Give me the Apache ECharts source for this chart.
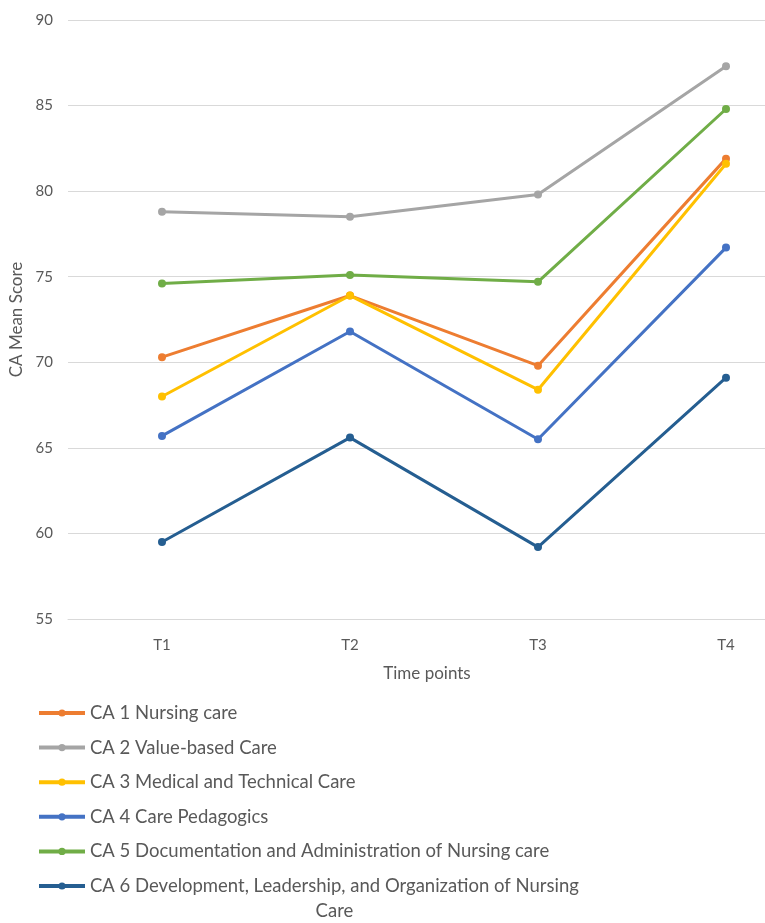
<!DOCTYPE html>
<html>
<head>
<meta charset="utf-8">
<script src="https://cdn.jsdelivr.net/npm/echarts@6/dist/echarts.min.js"></script>
<style>
  html, body { margin: 0; padding: 0; background: #fff; }
  #chart { width: 765px; height: 923px; }
</style>
</head>
<body>
<div id="chart"></div>
<script>
// Time points on the horizontal axis
const timePoints = ['T1', 'T2', 'T3', 'T4'];

// Mean scores per competence area at each time point
const ca1Nursing = [70.3, 73.9, 69.8, 81.9];
const ca2ValueBased = [78.8, 78.5, 79.8, 87.3];
const ca3MedicalTechnical = [68.0, 73.9, 68.4, 81.6];
const ca4Pedagogics = [65.7, 71.8, 65.5, 76.7];
const ca5Documentation = [74.6, 75.1, 74.7, 84.8];
const ca6Leadership = [59.5, 65.6, 59.2, 69.1];

const seriesNames = [
  'CA 1 Nursing care',
  'CA 2 Value-based Care',
  'CA 3 Medical and Technical Care',
  'CA 4 Care Pedagogics',
  'CA 5 Documentation and Administration of Nursing care',
  'CA 6 Development, Leadership, and Organization of Nursing Care'
];
const seriesValues = [ca1Nursing, ca2ValueBased, ca3MedicalTechnical, ca4Pedagogics, ca5Documentation, ca6Leadership];
const seriesColors = ['#ED7D31', '#A5A5A5', '#FFC000', '#4472C4', '#70AD47', '#255E91'];

const FONT = 'Lato, "Liberation Sans", sans-serif';
const TEXT_COLOR = '#595959';
const LEGEND_FONT_SIZE = 18.5;

const chart = echarts.init(document.getElementById('chart'), null, { renderer: 'canvas' });

const legendText = {
  color: TEXT_COLOR,
  fontFamily: FONT,
  fontSize: LEGEND_FONT_SIZE,
  lineHeight: 23
};
const legendCommon = {
  orient: 'vertical',
  left: 37,
  padding: 0,
  itemWidth: 46,
  itemHeight: 9,
  itemGap: 11.6,
  lineStyle: { width: 4 }
};

chart.setOption({
  animation: false,
  backgroundColor: '#ffffff',
  color: seriesColors,
  grid: {
    left: 68,
    right: -55,
    top: 20,
    bottom: 304,
    containLabel: false,
    outerBoundsMode: 'none'
  },
  xAxis: {
    type: 'category',
    data: timePoints,
    boundaryGap: true,
    axisLine: { show: true, lineStyle: { color: '#D9D9D9', width: 1 } },
    axisTick: { show: false },
    axisLabel: { color: TEXT_COLOR, fontFamily: FONT, fontSize: 15, margin: 19 },
    name: 'Time points',
    nameLocation: 'middle',
    nameGap: 46,
    nameTextStyle: { color: TEXT_COLOR, fontFamily: FONT, fontSize: 17, padding: [0, 34, 0, 0] }
  },
  yAxis: {
    type: 'value',
    min: 55,
    max: 90,
    interval: 5,
    axisLine: { show: false },
    axisTick: { show: false },
    splitLine: { show: true, lineStyle: { color: '#D9D9D9', width: 1 } },
    axisLabel: { color: TEXT_COLOR, fontFamily: FONT, fontSize: 15, margin: 15 },
    name: 'CA Mean Score',
    nameLocation: 'middle',
    nameGap: 41,
    nameTextStyle: { color: TEXT_COLOR, fontFamily: FONT, fontSize: 17 }
  },
  legend: [
    Object.assign({}, legendCommon, {
      top: 701.5,
      textStyle: legendText,
      data: seriesNames.slice(0, 5)
    }),
    Object.assign({}, legendCommon, {
      top: 848.5,
      textStyle: Object.assign({}, legendText, {
        lineHeight: 25,
        padding: [25, 0, 0, 0],
        rich: {
          a: { color: TEXT_COLOR, fontFamily: FONT, fontSize: LEGEND_FONT_SIZE, lineHeight: 25 },
          c: { color: TEXT_COLOR, fontFamily: FONT, fontSize: LEGEND_FONT_SIZE, lineHeight: 25, align: 'center' }
        }
      }),
      formatter: function () {
        return '{a|CA 6 Development, Leadership, and Organization of Nursing}\n{c|Care}';
      },
      data: [seriesNames[5]]
    })
  ],
  series: seriesNames.map(function (name, i) {
    return {
      name: name,
      type: 'line',
      data: seriesValues[i],
      symbol: 'circle',
      symbolSize: 8,
      lineStyle: { width: 3, color: seriesColors[i] },
      itemStyle: { color: seriesColors[i] }
    };
  })
});
</script>
</body>
</html>
